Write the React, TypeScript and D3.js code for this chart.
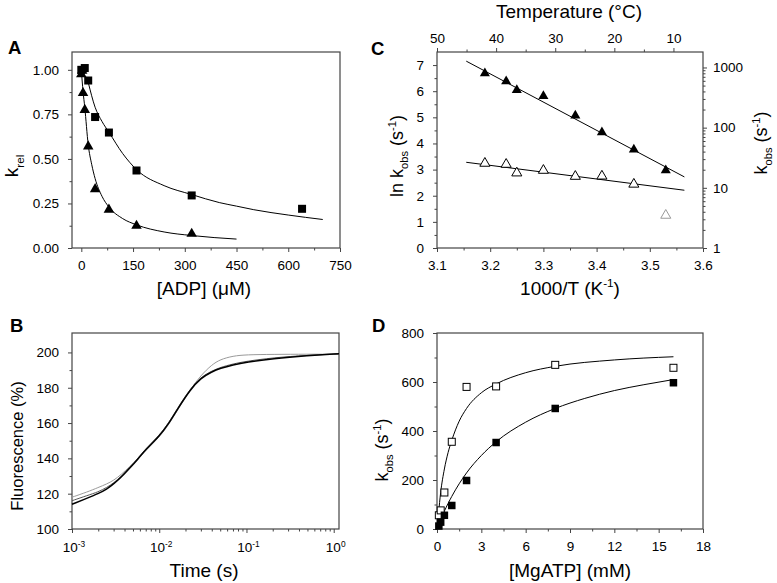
import { useEffect, useRef } from "react";
import * as d3 from "d3";

const width = 777;
const height = 583;
const font = '"Liberation Sans", Arial, Helvetica, sans-serif';
const axisColor = "#444";

// Panel A: relative rate vs [ADP]
const adpSquareX = [0, 10, 20, 40, 80, 160, 320, 640];
const adpSquareY = [1.0, 1.01, 0.94, 0.735, 0.648, 0.435, 0.295, 0.22];
const adpTriX = [0, 2.5, 5, 10, 20, 40, 80, 160, 320];
const adpTriY = [0.975, 0.995, 0.87, 0.775, 0.57, 0.33, 0.215, 0.125, 0.08];
const adpSquareFitX = [20, 40, 60, 80, 120, 160, 240, 320, 400, 450, 500, 600, 700];
const adpSquareFitY = [0.93, 0.79, 0.71, 0.65, 0.53, 0.44, 0.35, 0.3, 0.255, 0.235, 0.215, 0.185, 0.16];
const adpTriFitX = [0, 5, 10, 20, 30, 40, 60, 80, 120, 160, 240, 320, 450];
const adpTriFitY = [1.0, 0.88, 0.79, 0.58, 0.47, 0.39, 0.29, 0.23, 0.165, 0.13, 0.09, 0.07, 0.05];

// Panel B: fluorescence transient
const timePts = [0.001, 0.0015, 0.002, 0.0025, 0.003, 0.0037, 0.0045, 0.0058, 0.007, 0.01, 0.0128,
  0.016, 0.0227, 0.03, 0.04, 0.05, 0.07, 0.1, 0.2, 0.5, 1.15];
const fluoData = [114, 117.5, 120, 122.5, 125.5, 129.5, 134, 140, 145, 152.5, 159.5, 167.5, 179, 185.5,
  189, 191, 193, 194.5, 196.5, 198.2, 199.3];
const fluoFitDark = [116, 119, 121, 123.5, 126, 130, 134.5, 140.5, 145.5, 153, 160, 168, 179.5, 186,
  189.5, 191.5, 193.5, 195, 197, 198.4, 199.2];
const fluoFitLight = [118, 121, 123.5, 125.5, 127.5, 131, 135, 140, 144.5, 152, 159, 167, 179, 187, 193,
  196, 198, 198.7, 198.9, 199, 199];

// Panel C: Arrhenius plot
const invT = [3.19, 3.23, 3.25, 3.3, 3.36, 3.41, 3.47, 3.53];
const lnKFilled = [6.68, 6.38, 6.04, 5.81, 5.07, 4.43, 3.77, 2.97];
const lnKOpen = [3.24, 3.2, 2.87, 2.97, 2.74, 2.75, 2.44, 1.25];
const arrLineX = [3.155, 3.565];
const arrFilledLine = [7.15, 2.72];
const arrOpenLine = [3.28, 2.21];

// Panel D: kobs vs [MgATP]
const atpX = [0.125, 0.25, 0.5, 1, 2, 4, 8, 16];
const kobsOpen = [56, 76, 149, 356, 580, 582, 670, 658];
const kobsFilled = [12, 28, 56, 96, 198, 353, 492, 597];
const openFitX = [0.1, 0.25, 0.5, 0.75, 1, 1.5, 2, 3, 4, 6, 8, 12, 16];
const openFitY = [62, 150, 245, 312, 362, 440, 492, 556, 592, 638, 664, 690, 703];
const filledFitX = [0.15, 0.5, 1, 2, 3, 4, 6, 8, 10, 12, 14, 16];
const filledFitY = [23, 73, 133, 229, 300, 356, 436, 492, 533, 565, 589, 610];

export default function App() {
  const svgRef = useRef<SVGSVGElement>(null);

  useEffect(() => {
    if (!svgRef.current) return;
    const svg = d3.select(svgRef.current);
    svg.selectAll("*").remove();

    svg.append("rect").attr("width", width).attr("height", height).attr("fill", "#fff");

    const styleAxis = (g: any) => {
      g.attr("font-size", 13.5).attr("font-family", font);
      g.select(".domain").remove();
      g.selectAll(".tick line").attr("stroke", axisColor);
      g.selectAll(".tick text").attr("fill", "#000");
    };
    const addAxis = (axis: any, tx: number, ty: number) =>
      svg.append("g").attr("transform", `translate(${tx},${ty})`).call(axis).call(styleAxis);

    const frame = (x: any, y: any) => {
      const [x0, x1] = x.range();
      const [y1, y0] = y.range();
      svg.append("rect")
        .attr("x", x0).attr("y", y0)
        .attr("width", x1 - x0).attr("height", y1 - y0)
        .attr("fill", "none").attr("stroke", axisColor).attr("stroke-width", 1.2);
    };

    // text with sub/superscript parts: [text, "n"|"sub"|"sup"]
    const richLabel = (parts: [string, string][], x: number, y: number, size: number, rotate = false) => {
      const t = svg.append("text")
        .attr("transform", rotate ? `translate(${x},${y}) rotate(-90)` : `translate(${x},${y})`)
        .attr("text-anchor", "middle")
        .attr("font-family", font)
        .attr("font-size", size);
      let shift = 0;
      parts.forEach(([s, kind]) => {
        const target = kind === "sub" ? size * 0.3 : kind === "sup" ? -size * 0.4 : 0;
        t.append("tspan")
          .attr("dy", target - shift)
          .attr("font-size", kind === "n" ? size : size * 0.62)
          .text(s);
        shift = target;
      });
      return t;
    };

    const panelLetter = (txt: string, x: number, y: number) =>
      svg.append("text").attr("x", x).attr("y", y)
        .attr("font-family", font).attr("font-size", 18.5).attr("font-weight", "bold")
        .text(txt);

    const squares = (x: any, y: any, xs: number[], ys: number[], s: number, fill: string) =>
      svg.append("g").selectAll("rect").data(xs).join("rect")
        .attr("x", d => x(d) - s / 2)
        .attr("y", (d, i) => y(ys[i]) - s / 2)
        .attr("width", s).attr("height", s)
        .attr("fill", fill)
        .attr("stroke", "#000").attr("stroke-width", fill === "#000" ? 0 : 1);

    const triangles = (x: any, y: any, xs: number[], ys: number[], size: number, fill: string, strokes?: string[]) =>
      svg.append("g").selectAll("path").data(xs).join("path")
        .attr("transform", (d, i) => `translate(${x(d)},${y(ys[i])})`)
        .attr("d", d3.symbol(d3.symbolTriangle, size)())
        .attr("fill", fill)
        .attr("stroke", (d, i) => (strokes ? strokes[i] : "#000"))
        .attr("stroke-width", fill === "#000" ? 0 : 1);

    const curve = (x: any, y: any, xs: number[], ys: number[], color = "#000", w = 1, shape: any = d3.curveMonotoneX) => {
      const line = d3.line<number>()
        .x(d => x(d))
        .y((d, i) => y(ys[i]))
        .curve(shape);
      svg.append("path")
        .attr("fill", "none")
        .attr("stroke", color)
        .attr("stroke-width", w)
        .attr("d", line(xs));
    };

    const kobsTitle: [string, string][] = [["k", "n"], ["obs", "sub"], [" (s", "n"], ["-1", "sup"], [")", "n"]];

    // ---------- Panel A ----------
    const xA = d3.scaleLinear([-27, 750], [72, 340]);
    const yA = d3.scaleLinear([0, 1.1], [248, 52]);
    addAxis(d3.axisBottom(xA).tickValues([0, 150, 300, 450, 600, 750]).tickSize(4).tickPadding(8), 0, 248);
    addAxis(d3.axisBottom(xA).tickValues([75, 225, 375, 525, 675]).tickSize(2.5).tickFormat(() => ""), 0, 248);
    addAxis(d3.axisLeft(yA).tickValues([0, 0.25, 0.5, 0.75, 1]).tickFormat(d3.format(".2f")).tickSize(4).tickPadding(9), 72, 0);
    addAxis(d3.axisLeft(yA).tickValues([0.125, 0.375, 0.625, 0.875]).tickSize(2.5).tickFormat(() => ""), 72, 0);
    frame(xA, yA);
    curve(xA, yA, adpSquareFitX, adpSquareFitY);
    curve(xA, yA, adpTriFitX, adpTriFitY);
    squares(xA, yA, adpSquareX, adpSquareY, 8, "#000");
    triangles(xA, yA, adpTriX, adpTriY, 48, "#000");
    richLabel([["[ADP] (μM)", "n"]], 204, 295, 19);
    richLabel([["k", "n"], ["rel", "sub"]], 18, 166, 19, true);
    panelLetter("A", 8, 54);

    // ---------- Panel B ----------
    const xB = d3.scaleLog([0.001, 1.15], [72, 339]);
    const yB = d3.scaleLinear([100, 211], [529, 333]);
    const bMinor: number[] = [];
    [0.001, 0.01, 0.1].forEach(dec => { for (let k = 2; k <= 9; k++) bMinor.push(dec * k); });
    addAxis(d3.axisBottom(xB).tickValues([0.001, 0.01, 0.1, 1]).tickSize(4).tickFormat(() => ""), 0, 529);
    addAxis(d3.axisBottom(xB).tickValues(bMinor).tickSize(2.5).tickFormat(() => ""), 0, 529);
    addAxis(d3.axisLeft(yB).tickValues([100, 120, 140, 160, 180, 200]).tickSize(4).tickPadding(9), 72, 0);
    addAxis(d3.axisLeft(yB).tickValues([110, 130, 150, 170, 190]).tickSize(2.5).tickFormat(() => ""), 72, 0);
    frame(xB, yB);
    [-3, -2, -1, 0].forEach(p => {
      richLabel([["10", "n"], [String(p), "sup"]], xB(Math.pow(10, p)) + 2, 552, 13.5);
    });
    curve(xB, yB, timePts, fluoFitLight, "#9a9a9a", 1, d3.curveBasis);
    curve(xB, yB, timePts, fluoFitDark, "#555", 1, d3.curveBasis);
    curve(xB, yB, timePts, fluoData, "#000", 1.5, d3.curveBasis);
    richLabel([["Time (s)", "n"]], 204, 577, 19);
    richLabel([["Fluorescence (%)", "n"]], 23, 446, 16.5, true);
    panelLetter("B", 10, 332);

    // ---------- Panel C ----------
    const xC = d3.scaleLinear([3.1, 3.6], [437, 703]);
    const yC = d3.scaleLinear([0, 7.5], [248, 52]);
    const yCr = d3.scaleLog([1, Math.exp(7.5)], [248, 52]);
    const tC = d3.scaleLinear([50, 5], [437, 703]);
    const cRightMinor: number[] = [];
    [1, 10, 100].forEach(dec => { for (let k = 2; k <= 9; k++) cRightMinor.push(dec * k); });
    addAxis(d3.axisBottom(xC).tickValues([3.1, 3.2, 3.3, 3.4, 3.5, 3.6]).tickFormat(d3.format(".1f")).tickSize(4).tickPadding(8), 0, 248);
    addAxis(d3.axisBottom(xC).tickValues([3.15, 3.25, 3.35, 3.45, 3.55]).tickSize(2.5).tickFormat(() => ""), 0, 248);
    addAxis(d3.axisLeft(yC).tickValues([0, 1, 2, 3, 4, 5, 6, 7]).tickSize(4).tickPadding(9), 437, 0);
    addAxis(d3.axisLeft(yC).tickValues([0.5, 1.5, 2.5, 3.5, 4.5, 5.5, 6.5]).tickSize(2.5).tickFormat(() => ""), 437, 0);
    addAxis(d3.axisRight(yCr).tickValues([1, 10, 100, 1000]).tickFormat(d3.format("d")).tickSize(4).tickPadding(6), 703, 0);
    addAxis(d3.axisRight(yCr).tickValues(cRightMinor).tickSize(2.5).tickFormat(() => ""), 703, 0);
    addAxis(d3.axisTop(tC).tickValues([50, 40, 30, 20, 10]).tickSize(4).tickPadding(5), 0, 52);
    addAxis(d3.axisTop(tC).tickValues([45, 35, 25, 15]).tickSize(2.5).tickFormat(() => ""), 0, 52);
    frame(xC, yC);
    curve(xC, yC, arrLineX, arrFilledLine, "#000", 1, d3.curveLinear);
    curve(xC, yC, arrLineX, arrOpenLine, "#000", 1, d3.curveLinear);
    triangles(xC, yC, invT, lnKFilled, 44, "#000");
    triangles(xC, yC, invT, lnKOpen, 44, "#fff",
      invT.map((d, i) => (i === invT.length - 1 ? "#999" : "#000")));
    richLabel([["1000/T (K", "n"], ["-1", "sup"], [")", "n"]], 570, 295, 19);
    richLabel([["Temperature (°C)", "n"]], 569, 18, 19);
    richLabel([["ln ", "n"], ...kobsTitle], 403, 156, 18, true);
    richLabel(kobsTitle, 767, 143, 18, true);
    panelLetter("C", 371, 55);

    // ---------- Panel D ----------
    const xD = d3.scaleLinear([0, 18], [437, 703]);
    const yD = d3.scaleLinear([0, 800], [529, 333]);
    addAxis(d3.axisBottom(xD).tickValues([0, 3, 6, 9, 12, 15, 18]).tickSize(4).tickPadding(8), 0, 529);
    addAxis(d3.axisBottom(xD).tickValues([1.5, 4.5, 7.5, 10.5, 13.5, 16.5]).tickSize(2.5).tickFormat(() => ""), 0, 529);
    addAxis(d3.axisLeft(yD).tickValues([0, 200, 400, 600, 800]).tickSize(4).tickPadding(9), 437, 0);
    addAxis(d3.axisLeft(yD).tickValues([100, 300, 500, 700]).tickSize(2.5).tickFormat(() => ""), 437, 0);
    frame(xD, yD);
    curve(xD, yD, openFitX, openFitY);
    curve(xD, yD, filledFitX, filledFitY);
    squares(xD, yD, atpX, kobsOpen, 7, "#fff");
    squares(xD, yD, atpX, kobsFilled, 7.5, "#000");
    richLabel([["[MgATP] (mM)", "n"]], 570, 577, 19);
    richLabel(kobsTitle, 388, 450, 18, true);
    panelLetter("D", 372, 332);

    return () => {
      svg.selectAll("*").remove();
    };
  }, []);

  return (
    <svg
      ref={svgRef}
      width={width}
      height={height}
      viewBox={`0 0 ${width} ${height}`}
      style={{ position: "absolute", left: 0, top: 0, fontFamily: font }}
    />
  );
}
